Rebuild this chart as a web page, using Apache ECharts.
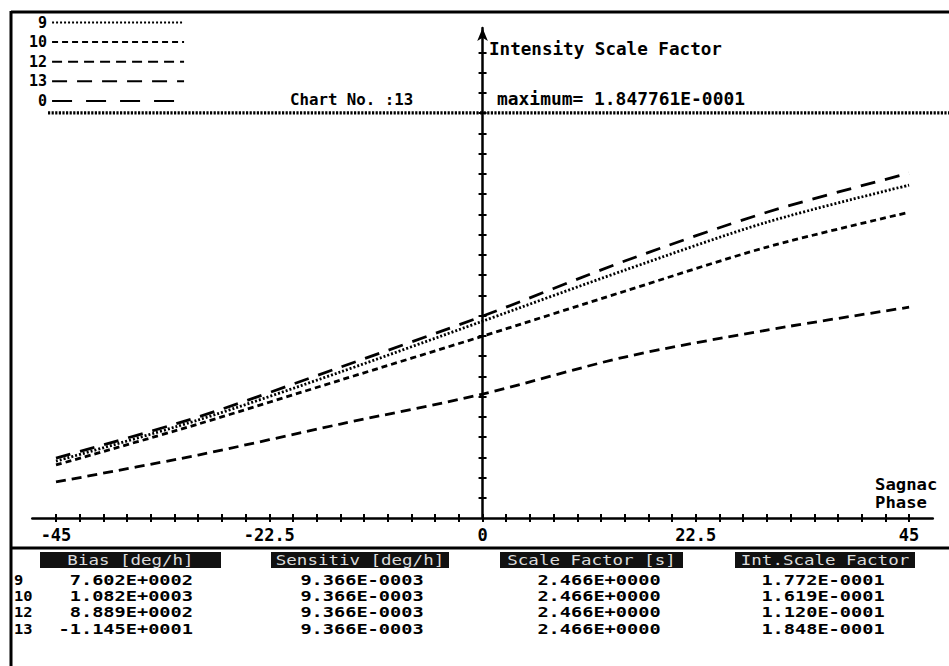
<!DOCTYPE html>
<html><head><meta charset="utf-8">
<script src="https://cdn.jsdelivr.net/npm/echarts@6/dist/echarts.min.js"></script>
<style>html,body{margin:0;padding:0;background:#fff}#c{width:949px;height:666px}</style>
</head><body><div id="c"></div>
<script>
// Sagnac phase (deg) sample positions
const phase = [-45, -30, -15, 0, 15, 30, 45];
// Curves, in vertical-axis tick units
const curve9  = [2.81, 4.84, 7.21, 9.72, 12.24, 14.61, 16.44];
const curve10 = [2.62, 4.64, 6.81, 8.98, 11.20, 13.38, 15.10];
const curve12 = [1.78, 3.11, 4.64, 6.12, 7.95, 9.28, 10.41];
const curve13 = [2.96, 4.99, 7.45, 9.97, 12.69, 15.10, 17.03];
const legendNames = ['9', '10', '12', '13', '0'];
// x-axis ticks and labels
const xTicks = [];
for (let v = -45; v <= 45; v += 2.5) xTicks.push(v);
const xLabels = [-45, -22.5, 0, 22.5, 45];
const yTicks = [];
for (let v = 1; v <= 23; v++) yTicks.push(v);
// Table
const headers = ['Bias [deg/h]', 'Sensitiv [deg/h]', 'Scale Factor [s]', 'Int.Scale Factor'];
const rowLabels = ['9', '10', '12', '13'];
const biasCol = ['7.602E+0002', '1.082E+0003', '8.889E+0002', '-1.145E+0001'];
const sensCol = ['9.366E-0003', '9.366E-0003', '9.366E-0003', '9.366E-0003'];
const scaleCol = ['2.466E+0000', '2.466E+0000', '2.466E+0000', '2.466E+0000'];
const intCol = ['1.772E-0001', '1.619E-0001', '1.120E-0001', '1.848E-0001'];
const chartNo = 'Chart No. :13';
const maxText = 'maximum= 1.847761E-0001';
const yTitle = 'Intensity Scale Factor';

const MONO = "'DejaVu Sans Mono', 'Liberation Mono', monospace";
const pts = arr => phase.map((x, i) => [x, arr[i]]);

function mkSeries(name, data, dash) {
  return {
    name, type: 'line', data, symbol: 'none', smooth: 0.3,
    xAxisIndex: 0, yAxisIndex: 0,
    lineStyle: { color: '#000', width: 2.8, type: dash },
    itemStyle: { color: '#000' },
    emphasis: { disabled: true }, silent: true, animation: false
  };
}

const axisBase = {
  type: 'value', min: -47.5, max: 47.5, splitLine: { show: false },
  axisLine: { onZero: true, lineStyle: { color: '#000', width: 2.5 } }
};

const chart = echarts.init(document.getElementById('c'), null, { renderer: 'svg' });

const headerBoxes = [[40, 221], [271, 449], [500, 683], [735, 915]];
const colX = [193, 362, 599, 823];
const rowY = [579.5, 595.5, 612, 628.5];
const cols = [biasCol, sensCol, scaleCol, intCol];

function txt(text, x, y, font, opts) {
  opts = opts || {};
  return {
    type: 'text', x: x, y: y, scaleX: opts.sx || 1, scaleY: opts.sy || 1,
    style: { text: text, x: 0, y: 0, font: font, fill: opts.fill || '#000',
      textAlign: opts.align || 'left', textVerticalAlign: 'middle' }
  };
}

const graphics = [];
// frame lines
graphics.push({ type: 'line', shape: { x1: 11, y1: 12, x2: 949, y2: 12 }, style: { stroke: '#000', lineWidth: 3 } });
graphics.push({ type: 'line', shape: { x1: 11, y1: 11, x2: 11, y2: 666 }, style: { stroke: '#000', lineWidth: 3 } });
graphics.push({ type: 'line', shape: { x1: 11, y1: 548, x2: 949, y2: 548 }, style: { stroke: '#000', lineWidth: 3 } });
// dotted reference line
graphics.push({ type: 'line', shape: { x1: 48, y1: 112.8, x2: 949, y2: 112.8 }, style: { stroke: '#000', lineWidth: 3.2, lineDash: [2.2, 1.4] } });
// header texts
graphics.push(txt(yTitle, 489, 49, 'bold 16px ' + MONO, { sx: 1.1, sy: 1.05 }));
graphics.push(txt(chartNo, 290, 99, 'bold 15px ' + MONO, { sx: 1.05, sy: 1.05 }));
graphics.push(txt(maxText, 497, 99, 'bold 16px ' + MONO, { sx: 1.12, sy: 1.05 }));
graphics.push(txt('Sagnac', 875, 485, 'bold 15px ' + MONO, { sx: 1.15 }));
graphics.push(txt('Phase', 875, 503, 'bold 15px ' + MONO, { sx: 1.15 }));
// table
headers.forEach((h, i) => {
  const [a, b] = headerBoxes[i];
  graphics.push({ type: 'rect', shape: { x: a, y: 552, width: b - a, height: 16 }, style: { fill: '#111' } });
  graphics.push(txt(h, (a + b) / 2, 560, '14px ' + MONO, { align: 'center', fill: '#ddd', sx: 1.25 }));
});
rowLabels.forEach((r, j) => {
  graphics.push(txt(r, 14, rowY[j], 'bold 14px ' + MONO, { sx: 1.1 }));
  cols.forEach((col, i) => {
    graphics.push(txt(col[j], colX[i], rowY[j], 'bold 14px ' + MONO, { align: i === 0 ? 'right' : 'center', sx: 1.33, sy: 1.05 }));
  });
});

chart.setOption({
  animation: false,
  backgroundColor: '#fff',
  grid: { left: 32.3, right: 16.2, top: 28, bottom: 148, containLabel: false },
  legend: {
    orient: 'vertical', align: 'right', left: 29, top: 15, padding: 0,
    itemWidth: 132, itemHeight: 14, itemGap: 4.6, selectedMode: false,
    data: legendNames,
    itemStyle: { opacity: 0 },
    textStyle: { color: '#000', fontWeight: 'bold', fontSize: 15, fontFamily: MONO, lineHeight: 14 }
  },
  xAxis: [
    Object.assign({}, axisBase, {
      position: 'bottom',
      axisTick: { show: true, length: 4, customValues: xTicks, lineStyle: { color: '#000', width: 2 } },
      axisLabel: { show: true, customValues: xLabels, margin: 8, color: '#000', fontWeight: 'bold', fontSize: 17, fontFamily: MONO }
    }),
    Object.assign({}, axisBase, {
      position: 'bottom',
      axisLine: { show: false, onZero: true },
      axisTick: { show: true, inside: true, length: 4, customValues: xTicks, lineStyle: { color: '#000', width: 2 } },
      axisLabel: { show: false }
    })
  ],
  yAxis: [
    {
      type: 'value', min: 0, max: 24.2, position: 'left', splitLine: { show: false },
      axisLine: { onZero: true, symbol: ['none', 'arrow'], symbolSize: [8, 13], lineStyle: { color: '#000', width: 2.5 } },
      axisTick: { show: true, length: 4, customValues: yTicks, lineStyle: { color: '#000', width: 2 } },
      axisLabel: { show: false }
    },
    {
      type: 'value', min: 0, max: 24.2, position: 'left', splitLine: { show: false },
      axisLine: { show: false, onZero: true },
      axisTick: { show: true, inside: true, length: 4, customValues: yTicks, lineStyle: { color: '#000', width: 2 } },
      axisLabel: { show: false }
    }
  ],
  series: [
    mkSeries('9', pts(curve9), [2, 2]),
    mkSeries('10', pts(curve10), [6, 4]),
    mkSeries('12', pts(curve12), [10, 6]),
    mkSeries('13', pts(curve13), [15, 10]),
    mkSeries('0', [], [20, 14])
  ],
  graphic: graphics
});
</script>
</body></html>
